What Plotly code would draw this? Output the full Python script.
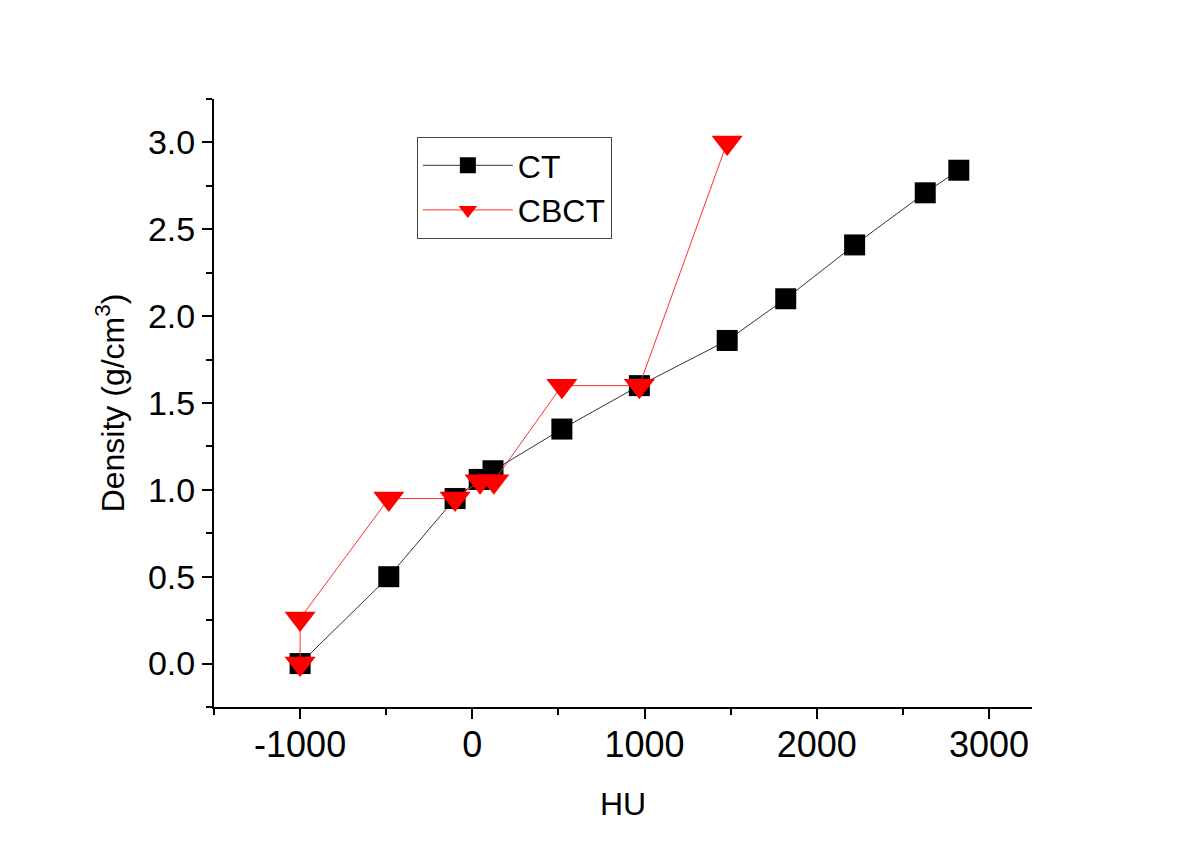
import plotly.graph_objects as go

ct_hu = [-1000, -485, -100, 40, 120, 520, 970, 1480, 1820, 2220, 2630, 2825]
ct_density = [0.0, 0.50, 0.95, 1.06, 1.11, 1.35, 1.60, 1.86, 2.10, 2.41, 2.71, 2.84]

cbct_hu = [-1000, -1000, -485, -100, 45, 125, 520, 970, 1480]
cbct_density = [0.0, 0.26, 0.95, 0.95, 1.05, 1.05, 1.60, 1.60, 3.00]

x_ticks = [-1000, 0, 1000, 2000, 3000]
y_ticks = [0.0, 0.5, 1.0, 1.5, 2.0, 2.5, 3.0]

FONT = "Liberation Sans, Arial, sans-serif"

fig = go.Figure()
fig.add_trace(go.Scatter(
    x=ct_hu, y=ct_density, name="CT", mode="lines+markers",
    line=dict(color="#333333", width=1),
    marker=dict(symbol="square", size=21, color="#000000", line=dict(width=0)),
))
fig.add_trace(go.Scatter(
    x=cbct_hu, y=cbct_density, name="CBCT", mode="lines+markers",
    line=dict(color="#ff3030", width=1),
    marker=dict(symbol="triangle-down", size=27, color="#ff0000", line=dict(width=0)),
))

fig.update_layout(
    width=1200, height=847,
    margin=dict(l=206, r=176, t=91, b=148),
    paper_bgcolor="white", plot_bgcolor="white",
    font=dict(family=FONT, color="black"),
    showlegend=True,
    legend=dict(
        x=0.248, y=0.9375, xanchor="left", yanchor="top",
        bgcolor="white", bordercolor="#444444", borderwidth=1,
        font=dict(size=32, family=FONT, color="black"),
        itemwidth=90, tracegroupgap=0,
    ),
    xaxis=dict(
        range=[-1500, 3250], tickvals=x_ticks, ticktext=[str(v) for v in x_ticks],
        showgrid=False, zeroline=False, showline=True, linecolor="black", linewidth=2,
        ticks="outside", ticklen=10, tickwidth=2, tickcolor="black",
        tickfont=dict(size=36, family=FONT), ticklabelstandoff=-5,
        minor=dict(ticks="outside", ticklen=6, tickwidth=2, tickcolor="black", dtick=500, tick0=-1500),
        title=dict(text="HU", font=dict(size=32, family=FONT), standoff=28),
    ),
    yaxis=dict(
        range=[-0.25, 3.25], tickvals=y_ticks, ticktext=[f"{v:.1f}" for v in y_ticks],
        showgrid=False, zeroline=False, showline=True, linecolor="black", linewidth=2,
        ticks="outside", ticklen=10, tickwidth=2, tickcolor="black",
        tickfont=dict(size=34, family=FONT),
        minor=dict(ticks="outside", ticklen=6, tickwidth=2, tickcolor="black", dtick=0.25, tick0=-0.25),
        title=dict(text="Density (g/cm<sup>3</sup>)", font=dict(size=32, family=FONT), standoff=14),
    ),
)

fig.write_html("out.html")
